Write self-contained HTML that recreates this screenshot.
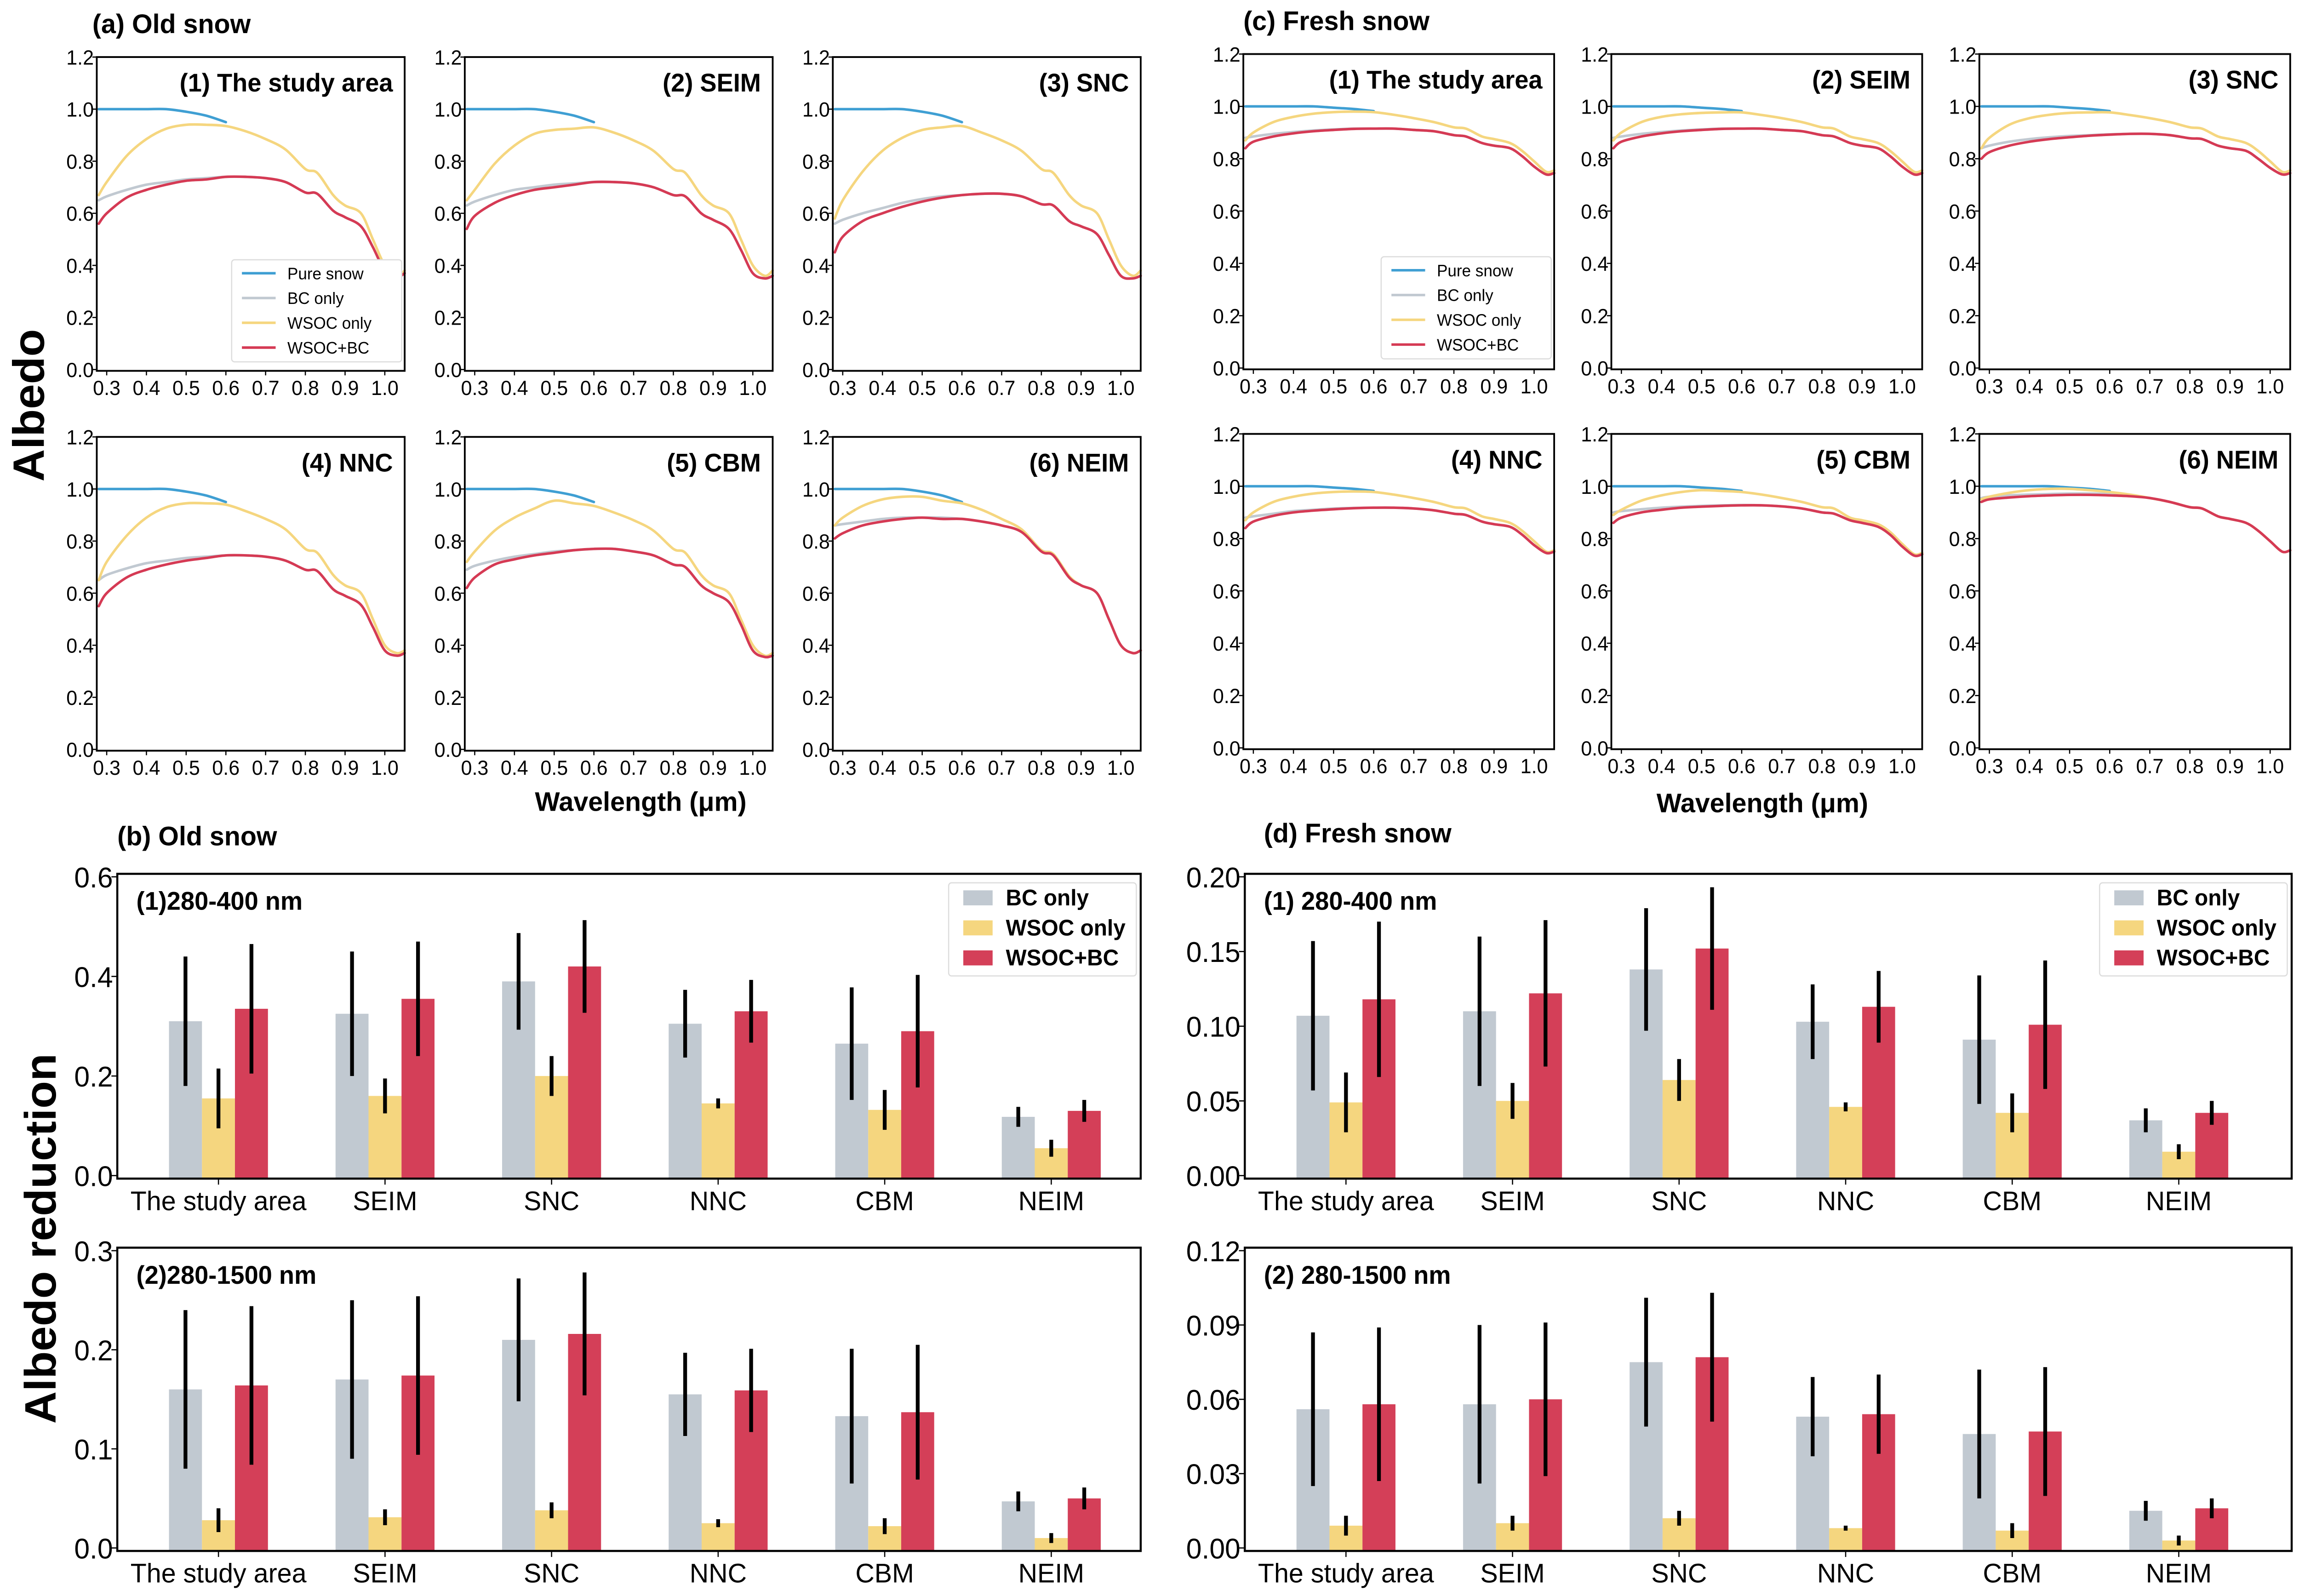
<!DOCTYPE html>
<html><head><meta charset="utf-8"><style>
html,body{margin:0;padding:0;background:#fff;width:100%;height:100%;overflow:hidden}
svg{display:block;width:100vw;height:100vh}
text{font-family:"Liberation Sans",sans-serif;fill:#000}
</style></head><body>
<svg id="fig" xmlns="http://www.w3.org/2000/svg" viewBox="0 0 1568 1063" preserveAspectRatio="none">
<rect width="1568" height="1063" fill="#fff"/>
<text x="63" y="22" font-size="18" font-weight="bold">(a) Old snow</text>
<text x="848" y="20" font-size="18" font-weight="bold">(c) Fresh snow</text>
<text x="80" y="563" font-size="18" font-weight="bold">(b) Old snow</text>
<text x="862" y="561" font-size="18" font-weight="bold">(d) Fresh snow</text>
<text transform="translate(30,270) rotate(-90)" text-anchor="middle" font-size="30" font-weight="bold">Albedo</text>
<text transform="translate(38,825) rotate(-90)" text-anchor="middle" font-size="30" font-weight="bold">Albedo reduction</text>
<text x="437" y="540" text-anchor="middle" font-size="18" font-weight="bold">Wavelength (μm)</text>
<text x="1202" y="541" text-anchor="middle" font-size="18" font-weight="bold">Wavelength (μm)</text>
</svg>
<script>
// ---------- spectral data ----------
const wl = [0.28,0.3,0.35,0.4,0.45,0.5,0.55,0.6,0.65,0.7,0.75,0.8,0.83,0.87,0.9,0.94,0.97,1.0,1.03,1.05];
const xTicks = [0.3,0.4,0.5,0.6,0.7,0.8,0.9,1.0];
const yTicksLine = [0.0,0.2,0.4,0.6,0.8,1.0,1.2];
const panelNames = ["(1) The study area","(2) SEIM","(3) SNC","(4) NNC","(5) CBM","(6) NEIM"];
const seriesNames = ["Pure snow","BC only","WSOC only","WSOC+BC"];
const oldPure = [1,1,1,1,1,0.99,0.975,0.95];
const oldWsoc = [
 [.67,.72,.82,.885,.925,.94,.94,.935,.915,.885,.845,.77,.755,.67,.63,.6,.5,.4,.36,.38],
 [.65,.69,.79,.86,.905,.92,.925,.93,.91,.88,.84,.77,.755,.67,.63,.6,.5,.4,.36,.38],
 [.58,.65,.76,.84,.89,.92,.93,.935,.91,.88,.84,.77,.755,.67,.63,.6,.5,.4,.36,.38],
 [.65,.72,.82,.89,.93,.945,.945,.94,.915,.885,.845,.77,.755,.67,.63,.6,.5,.4,.37,.38],
 [.72,.76,.84,.89,.925,.955,.945,.935,.91,.88,.84,.77,.755,.67,.63,.6,.5,.4,.36,.37],
 [.86,.89,.935,.96,.97,.97,.955,.945,.92,.885,.845,.765,.75,.665,.63,.6,.5,.4,.37,.38]];
const oldBc = [
 [.65,.665,.69,.71,.72,.73,.735,.74,.74,.735,.72,.68,.675,.61,.585,.55,.47,.38,.355,.37],
 [.63,.645,.67,.69,.70,.71,.715,.72,.72,.715,.70,.67,.665,.6,.575,.54,.46,.37,.35,.36],
 [.56,.575,.6,.62,.64,.655,.665,.67,.675,.675,.665,.635,.63,.57,.55,.52,.44,.36,.35,.36],
 [.65,.67,.695,.715,.725,.735,.74,.745,.745,.74,.725,.69,.685,.615,.59,.555,.47,.38,.36,.37],
 [.69,.705,.725,.74,.75,.76,.765,.77,.77,.76,.745,.71,.7,.63,.6,.565,.48,.38,.355,.36],
 [.86,.865,.875,.885,.89,.89,.89,.885,.875,.86,.835,.765,.75,.665,.63,.6,.5,.4,.37,.38]];
const oldBoth = [
 [.56,.6,.66,.69,.71,.725,.73,.74,.74,.735,.72,.68,.675,.61,.585,.55,.47,.38,.355,.37],
 [.54,.59,.64,.67,.69,.70,.71,.72,.72,.715,.70,.67,.665,.6,.575,.54,.46,.37,.35,.36],
 [.45,.51,.57,.60,.625,.645,.66,.67,.675,.675,.665,.635,.63,.57,.55,.52,.44,.36,.35,.36],
 [.55,.6,.66,.69,.71,.725,.735,.745,.745,.74,.725,.69,.685,.615,.59,.555,.47,.38,.36,.37],
 [.62,.66,.71,.73,.745,.755,.765,.77,.77,.76,.745,.71,.7,.63,.6,.565,.48,.38,.355,.36],
 [.81,.83,.86,.875,.885,.89,.885,.885,.875,.86,.835,.76,.745,.66,.63,.6,.5,.4,.37,.38]];
const freshPure = [1,1,1,1,1,0.995,0.99,0.982];
const freshWsoc = [
 [.87,.9,.94,.96,.972,.978,.98,.978,.968,.955,.94,.92,.915,.885,.875,.86,.83,.79,.75,.755],
 [.87,.9,.94,.96,.97,.975,.977,.977,.967,.955,.94,.92,.915,.885,.875,.86,.83,.79,.75,.755],
 [.84,.88,.93,.955,.968,.975,.977,.977,.967,.955,.94,.92,.915,.885,.875,.86,.83,.79,.75,.755],
 [.87,.9,.94,.96,.972,.978,.98,.978,.968,.955,.94,.92,.915,.885,.875,.86,.83,.79,.75,.755],
 [.89,.91,.945,.965,.978,.985,.982,.978,.968,.955,.94,.92,.915,.88,.87,.855,.825,.78,.74,.745],
 [.95,.96,.975,.985,.99,.99,.985,.978,.968,.955,.94,.92,.915,.885,.875,.86,.83,.79,.75,.755]];
const freshBc = [
 [.88,.885,.895,.902,.908,.912,.915,.915,.915,.91,.905,.89,.885,.86,.85,.84,.81,.77,.74,.745],
 [.88,.885,.895,.902,.908,.912,.915,.915,.915,.91,.905,.89,.885,.86,.85,.84,.81,.77,.74,.745],
 [.84,.85,.865,.875,.882,.887,.89,.893,.895,.895,.89,.878,.875,.85,.84,.83,.8,.765,.74,.745],
 [.88,.885,.895,.905,.91,.915,.917,.918,.918,.915,.908,.895,.89,.865,.855,.845,.815,.775,.745,.75],
 [.9,.905,.912,.918,.922,.925,.927,.928,.927,.923,.915,.9,.895,.87,.86,.845,.815,.77,.735,.74],
 [.955,.96,.965,.968,.97,.972,.972,.97,.965,.955,.94,.92,.915,.885,.875,.86,.83,.79,.75,.755]];
const freshBoth = [
 [.84,.865,.885,.897,.905,.91,.914,.915,.915,.91,.905,.89,.885,.86,.85,.84,.81,.77,.74,.745],
 [.84,.865,.885,.897,.905,.91,.914,.915,.915,.91,.905,.89,.885,.86,.85,.84,.81,.77,.74,.745],
 [.8,.825,.85,.865,.875,.882,.888,.892,.895,.895,.89,.878,.875,.85,.84,.83,.8,.765,.74,.745],
 [.84,.865,.887,.9,.907,.912,.916,.918,.918,.915,.908,.895,.89,.865,.855,.845,.815,.775,.745,.75],
 [.86,.88,.9,.91,.918,.922,.925,.927,.927,.923,.915,.9,.895,.87,.86,.845,.815,.77,.735,.74],
 [.94,.95,.957,.962,.965,.967,.967,.965,.962,.955,.94,.92,.915,.885,.875,.86,.83,.79,.75,.755]];

// ---------- bar data ----------
const regions = ["The study area","SEIM","SNC","NNC","CBM","NEIM"];
const barSeries = ["BC only","WSOC only","WSOC+BC"];
const b1Bc=[0.31,0.325,0.39,0.305,0.265,0.118], b1BcErr=[0.13,0.125,0.097,0.068,0.113,0.02];
const b1Ws=[0.155,0.16,0.2,0.145,0.132,0.055], b1WsErr=[0.06,0.035,0.04,0.01,0.04,0.017];
const b1Bo=[0.335,0.355,0.42,0.33,0.29,0.13], b1BoErr=[0.13,0.115,0.093,0.063,0.113,0.022];
const b2Bc=[0.16,0.17,0.21,0.155,0.133,0.047], b2BcErr=[0.08,0.08,0.062,0.042,0.068,0.01];
const b2Ws=[0.028,0.031,0.038,0.025,0.022,0.01], b2WsErr=[0.012,0.008,0.008,0.004,0.008,0.005];
const b2Bo=[0.164,0.174,0.216,0.159,0.137,0.05], b2BoErr=[0.08,0.08,0.062,0.042,0.068,0.011];
const d1Bc=[0.107,0.11,0.138,0.103,0.091,0.037], d1BcErr=[0.05,0.05,0.041,0.025,0.043,0.008];
const d1Ws=[0.049,0.05,0.064,0.046,0.042,0.016], d1WsErr=[0.02,0.012,0.014,0.003,0.013,0.005];
const d1Bo=[0.118,0.122,0.152,0.113,0.101,0.042], d1BoErr=[0.052,0.049,0.041,0.024,0.043,0.008];
const d2Bc=[0.056,0.058,0.075,0.053,0.046,0.015], d2BcErr=[0.031,0.032,0.026,0.016,0.026,0.004];
const d2Ws=[0.009,0.01,0.012,0.008,0.007,0.003], d2WsErr=[0.004,0.003,0.003,0.001,0.003,0.002];
const d2Bo=[0.058,0.06,0.077,0.054,0.047,0.016], d2BoErr=[0.031,0.031,0.026,0.016,0.026,0.004];
const b1Ticks=["0.0","0.2","0.4","0.6"], b2Ticks=["0.0","0.1","0.2","0.3"];
const d1Ticks=["0.00","0.05","0.10","0.15","0.20"], d2Ticks=["0.00","0.03","0.06","0.09","0.12"];

const NS="http://www.w3.org/2000/svg";
const svg=document.getElementById('fig');
function mk(tag,attrs,parent){const e=document.createElementNS(NS,tag);for(const k in attrs)e.setAttribute(k,attrs[k]);(parent||svg).appendChild(e);return e;}
const lineColors=["#3f9fd3","#c1c9d1","#f5d67f","#d53a54"];
const barColors=["#c1c9d1","#f5d67f","#d43f58"];
function smoothPath(P){
  let d='M'+P[0][0].toFixed(2)+','+P[0][1].toFixed(2);
  for(let i=0;i<P.length-1;i++){
    const p0=P[i-1]||P[i],p1=P[i],p2=P[i+1],p3=P[i+2]||p2;
    const c1=[p1[0]+(p2[0]-p0[0])/6,p1[1]+(p2[1]-p0[1])/6];
    const c2=[p2[0]-(p3[0]-p1[0])/6,p2[1]-(p3[1]-p1[1])/6];
    d+=' C'+c1[0].toFixed(2)+','+c1[1].toFixed(2)+' '+c2[0].toFixed(2)+','+c2[1].toFixed(2)+' '+p2[0].toFixed(2)+','+p2[1].toFixed(2);
  }
  return d;
}

function linePanel(x0,y0,w,h,name,series,legend){
  const g=mk('g',{});
  
  
  const xs=v=>x0+(v-0.275)/(1.05-0.275)*w;
  const ys=v=>y0+h-(v+0.005)/1.205*h;
  series.forEach((arr,si)=>{
    const P=arr.map((v,i)=>[xs(wl[i]),ys(v)]);
    const p=mk('path',{d:smoothPath(P),fill:'none',stroke:lineColors[si],'stroke-width':1.7,'stroke-linejoin':'round','stroke-linecap':'round'},g);
    
    
  });
  const fr=mk('rect',{x:x0,y:y0,width:w,height:h,fill:'none',stroke:'#000','stroke-width':1.2},g);
  
  
  xTicks.forEach(t=>{const x=xs(t);mk('line',{x1:x,x2:x,y1:y0+h,y2:y0+h+3,stroke:'#000','stroke-width':0.8},g);
    const tx=mk('text',{x:x,y:y0+h+16,'text-anchor':'middle','font-size':13.5},g);tx.textContent=t.toFixed(1);
    });
  yTicksLine.forEach(t=>{const y=ys(t);mk('line',{x1:x0-3,x2:x0,y1:y,y2:y,stroke:'#000','stroke-width':0.8},g);
    const tx=mk('text',{x:x0-2,y:y+5,'text-anchor':'end','font-size':13.5},g);tx.textContent=t.toFixed(1);
    });
  const tt=mk('text',{x:x0+w-8,y:y0+23,'text-anchor':'end','font-size':17,'font-weight':'bold'},g);tt.textContent=name;
  
  if(legend){
    const lg=mk('g',{},g);
    
    
    const lx=x0+w-118, ly=y0+135;
    mk('rect',{x:lx,y:ly,width:116,height:68,rx:2,fill:'#fff',stroke:'#ddd','stroke-width':0.8},lg);
    seriesNames.forEach((s,i)=>{const yy=ly+9+i*16.5;
      mk('line',{x1:lx+7,x2:lx+30,y1:yy,y2:yy,stroke:lineColors[i],'stroke-width':1.7},lg);
      const t=mk('text',{x:lx+38,y:yy+4,'font-size':11},lg);t.textContent=s;
      });
  }
}
const oldX=[66,317,568], oldY=[38,291], frX=[848,1099,1350], frY=[36,289];
for(let i=0;i<6;i++){
  const c=i%3,r=Math.floor(i/3);
  linePanel(oldX[c],oldY[r],210,209,panelNames[i],[oldPure,oldBc[i],oldWsoc[i],oldBoth[i]],i===0);
  linePanel(frX[c],frY[r],212,210,panelNames[i],[freshPure,freshBc[i],freshWsoc[i],freshBoth[i]],i===0);
}

function barPanel(x0,y0,w,h,ymax,ticks,first,step,vals,errs,label,legend){
  const g=mk('g',{});
  
  
  const ys=v=>y0+h-2-v/ymax*(h-4);
  const bw=22.5;
  vals.forEach((arr,si)=>{
    arr.forEach((v,i)=>{
      const cx=first+i*step+(si-1)*bw;
      const r=mk('rect',{x:cx-bw/2,y:ys(v),width:bw,height:ys(0)-ys(v)+2,fill:barColors[si]},g);
      
      
    });
  });
  vals.forEach((arr,si)=>{
    arr.forEach((v,i)=>{
      const cx=first+i*step+(si-1)*bw, e=errs[si][i];
      const l=mk('line',{x1:cx,x2:cx,y1:ys(v-e),y2:ys(v+e),stroke:'#000','stroke-width':2.6},g);
      
      
    });
  });
  const fr=mk('rect',{x:x0,y:y0,width:w,height:h,fill:'none',stroke:'#000','stroke-width':1.4},g);
  
  
  regions.forEach((rg,i)=>{const x=first+i*step;mk('line',{x1:x,x2:x,y1:y0+h,y2:y0+h+4,stroke:'#000','stroke-width':0.8},g);
    const t=mk('text',{x:x,y:y0+h+21,'text-anchor':'middle','font-size':18},g);t.textContent=rg;
    });
  ticks.forEach((tk,i)=>{const y=ys(i*ymax/(ticks.length-1));mk('line',{x1:x0-4,x2:x0,y1:y,y2:y,stroke:'#000','stroke-width':0.8},g);
    const t=mk('text',{x:x0-3,y:y+7,'text-anchor':'end','font-size':19},g);t.textContent=tk;
    });
  const tt=mk('text',{x:x0+13,y:y0+24,'font-size':17,'font-weight':'bold'},g);tt.textContent=label;
  
  if(legend){
    const lg=mk('g',{},g);
    
    
    const lx=x0+w-131, ly=y0+6;
    mk('rect',{x:lx,y:ly,width:128,height:62,rx:2,fill:'#fff',stroke:'#ddd','stroke-width':0.8},lg);
    barSeries.forEach((s,i)=>{const yy=ly+10+i*20;
      mk('rect',{x:lx+10,y:yy-5,width:20,height:10,fill:barColors[i]},lg);
      const t=mk('text',{x:lx+39,y:yy+5,'font-size':15,'font-weight':'bold'},lg);t.textContent=s;
      });
  }
}
barPanel(80,582,698,203,0.6,b1Ticks,149,113.6,[b1Bc,b1Ws,b1Bo],[b1BcErr,b1WsErr,b1BoErr],"(1)280-400 nm",true);
barPanel(80,831,698,202,0.3,b2Ticks,149,113.6,[b2Bc,b2Ws,b2Bo],[b2BcErr,b2WsErr,b2BoErr],"(2)280-1500 nm",false);
barPanel(849,582,714,203,0.2,d1Ticks,918,113.6,[d1Bc,d1Ws,d1Bo],[d1BcErr,d1WsErr,d1BoErr],"(1) 280-400 nm",true);
barPanel(849,831,714,202,0.12,d2Ticks,918,113.6,[d2Bc,d2Ws,d2Bo],[d2BcErr,d2WsErr,d2BoErr],"(2) 280-1500 nm",false);
</script>
</body></html>
